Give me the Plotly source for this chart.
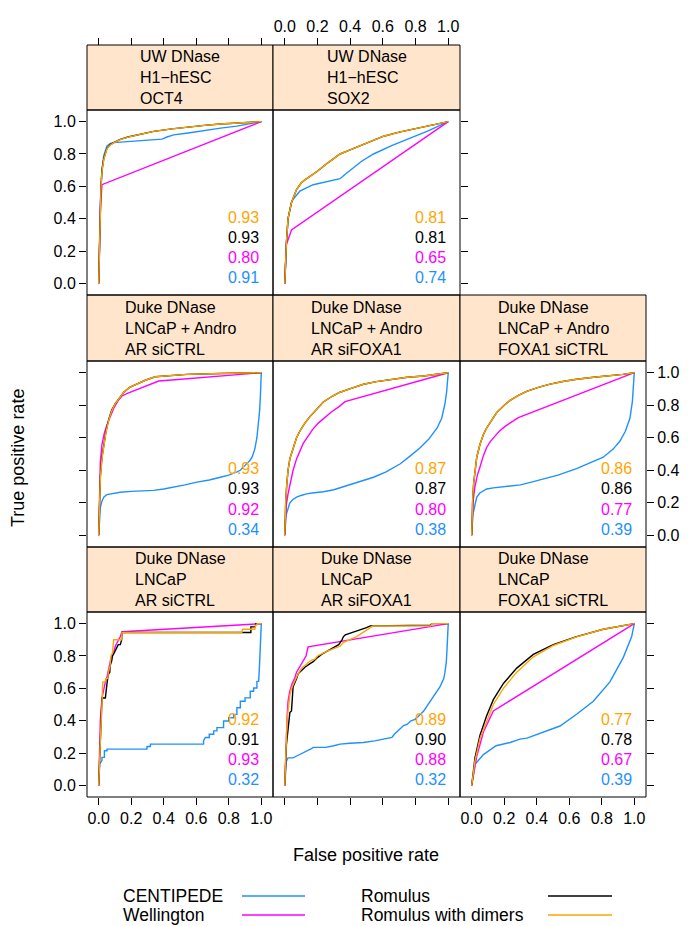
import plotly.graph_objects as go

# ---------------- data ----------------
panel_labels = [
    "UW DNase<br>H1−hESC<br>OCT4",
    "UW DNase<br>H1−hESC<br>SOX2",
    "Duke DNase<br>LNCaP + Andro<br>AR siCTRL",
    "Duke DNase<br>LNCaP + Andro<br>AR siFOXA1",
    "Duke DNase<br>LNCaP + Andro<br>FOXA1 siCTRL",
    "Duke DNase<br>LNCaP<br>AR siCTRL",
    "Duke DNase<br>LNCaP<br>AR siFOXA1",
    "Duke DNase<br>LNCaP<br>FOXA1 siCTRL",
]
method_names = ["CENTIPEDE", "Wellington", "Romulus", "Romulus with dimers"]
auc_centipede = [0.91, 0.74, 0.34, 0.38, 0.39, 0.32, 0.32, 0.39]
auc_wellington = [0.80, 0.65, 0.92, 0.80, 0.77, 0.93, 0.88, 0.67]
auc_romulus = [0.93, 0.81, 0.93, 0.87, 0.86, 0.91, 0.90, 0.78]
auc_dimers = [0.93, 0.81, 0.93, 0.87, 0.86, 0.92, 0.89, 0.77]
tick_vals = [0.0, 0.2, 0.4, 0.6, 0.8, 1.0]
tick_text = ["0.0", "0.2", "0.4", "0.6", "0.8", "1.0"]

# Panel 1: OCT4
oct4_cen_x = [0, 0.004, 0.010, 0.020, 0.031, 0.051, 0.072, 0.092, 0.15, 0.236, 0.32, 0.389, 0.42, 0.461, 0.55, 0.645, 0.75, 0.85, 0.93, 1.0]
oct4_cen_y = [0, 0.30, 0.50, 0.70, 0.79, 0.85, 0.865, 0.870, 0.875, 0.88, 0.887, 0.892, 0.905, 0.918, 0.93, 0.945, 0.96, 0.972, 0.985, 1.0]
oct4_wel_x = [0, 0.004, 0.010, 0.020, 1.0]
oct4_wel_y = [0, 0.20, 0.45, 0.61, 1.0]
oct4_rom_x = [0, 0.004, 0.010, 0.014, 0.020, 0.031, 0.051, 0.072, 0.092, 0.133, 0.18, 0.236, 0.338, 0.45, 0.543, 0.65, 0.748, 0.87, 1.0]
oct4_rom_y = [0, 0.25, 0.45, 0.60, 0.70, 0.77, 0.835, 0.858, 0.870, 0.89, 0.905, 0.918, 0.94, 0.955, 0.967, 0.977, 0.985, 0.993, 1.0]
oct4_dim_x = [0, 0.004, 0.010, 0.014, 0.020, 0.031, 0.051, 0.072, 0.092, 0.133, 0.18, 0.236, 0.338, 0.45, 0.543, 0.65, 0.748, 0.87, 1.0]
oct4_dim_y = [0, 0.24, 0.44, 0.59, 0.69, 0.765, 0.832, 0.856, 0.869, 0.889, 0.904, 0.918, 0.94, 0.955, 0.967, 0.977, 0.985, 0.993, 1.0]

# Panel 2: SOX2
sox2_cen_x = [0, 0.004, 0.010, 0.020, 0.041, 0.051, 0.092, 0.174, 0.338, 0.37, 0.40, 0.47, 0.543, 0.65, 0.748, 0.87, 1.0]
sox2_cen_y = [0, 0.12, 0.25, 0.40, 0.50, 0.52, 0.57, 0.61, 0.647, 0.675, 0.70, 0.755, 0.80, 0.85, 0.89, 0.94, 1.0]
sox2_wel_x = [0, 0.004, 0.010, 0.041, 1.0]
sox2_wel_y = [0, 0.12, 0.24, 0.33, 1.0]
sox2_rom_x = [0, 0.004, 0.010, 0.020, 0.041, 0.072, 0.10, 0.123, 0.195, 0.27, 0.338, 0.40, 0.461, 0.53, 0.605, 0.70, 0.809, 0.90, 1.0]
sox2_rom_y = [0, 0.12, 0.25, 0.40, 0.50, 0.58, 0.62, 0.64, 0.69, 0.75, 0.80, 0.825, 0.85, 0.88, 0.91, 0.935, 0.96, 0.98, 1.0]
sox2_dim_x = [0, 0.004, 0.010, 0.020, 0.041, 0.072, 0.10, 0.123, 0.195, 0.27, 0.338, 0.40, 0.461, 0.53, 0.605, 0.70, 0.809, 0.90, 1.0]
sox2_dim_y = [0, 0.12, 0.25, 0.40, 0.50, 0.58, 0.62, 0.64, 0.69, 0.75, 0.80, 0.825, 0.85, 0.88, 0.91, 0.935, 0.96, 0.98, 1.0]

# Panel 3: LNCaP + Andro, AR siCTRL
andAR_cen_x = [0, 0.004, 0.010, 0.020, 0.031, 0.05, 0.08, 0.133, 0.2, 0.338, 0.40, 0.461, 0.53, 0.605, 0.68, 0.748, 0.80, 0.85, 0.871, 0.90, 0.93, 0.943, 0.96, 0.973, 0.983, 0.99, 0.995, 1.0]
andAR_cen_y = [0, 0.10, 0.17, 0.21, 0.235, 0.25, 0.257, 0.265, 0.27, 0.276, 0.285, 0.296, 0.31, 0.327, 0.34, 0.357, 0.37, 0.39, 0.40, 0.43, 0.46, 0.48, 0.53, 0.60, 0.68, 0.77, 0.87, 1.0]
andAR_wel_x = [0, 0.004, 0.010, 0.020, 0.035, 0.051, 0.07, 0.092, 0.12, 0.143, 0.18, 0.215, 0.25, 0.287, 0.33, 0.369, 0.45, 0.543, 0.75, 1.0]
andAR_wel_y = [0, 0.30, 0.45, 0.56, 0.63, 0.68, 0.73, 0.78, 0.83, 0.857, 0.875, 0.888, 0.905, 0.918, 0.935, 0.949, 0.955, 0.962, 0.98, 1.0]
andAR_rom_x = [0, 0.004, 0.010, 0.020, 0.031, 0.045, 0.061, 0.08, 0.102, 0.13, 0.154, 0.19, 0.236, 0.29, 0.348, 0.45, 0.543, 0.75, 1.0]
andAR_rom_y = [0, 0.20, 0.36, 0.48, 0.56, 0.64, 0.71, 0.77, 0.81, 0.85, 0.88, 0.91, 0.93, 0.955, 0.975, 0.985, 0.99, 0.995, 1.0]
andAR_dim_x = [0, 0.004, 0.010, 0.020, 0.031, 0.045, 0.061, 0.08, 0.102, 0.13, 0.154, 0.19, 0.236, 0.29, 0.348, 0.45, 0.543, 0.75, 1.0]
andAR_dim_y = [0, 0.19, 0.35, 0.47, 0.555, 0.635, 0.705, 0.765, 0.81, 0.85, 0.88, 0.91, 0.93, 0.955, 0.975, 0.985, 0.99, 0.995, 1.0]

# Panel 4: LNCaP + Andro, AR siFOXA1
andARf_cen_x = [0, 0.002, 0.006, 0.010, 0.020, 0.031, 0.05, 0.072, 0.1, 0.133, 0.18, 0.236, 0.3, 0.379, 0.46, 0.543, 0.62, 0.707, 0.77, 0.83, 0.88, 0.932, 0.96, 0.98, 0.99, 0.996, 1.0]
andARf_cen_y = [0, 0.06, 0.10, 0.13, 0.17, 0.20, 0.22, 0.235, 0.245, 0.255, 0.262, 0.268, 0.28, 0.305, 0.33, 0.357, 0.39, 0.44, 0.49, 0.54, 0.59, 0.66, 0.72, 0.81, 0.88, 0.95, 1.0]
andARf_wel_x = [0, 0.004, 0.010, 0.020, 0.035, 0.051, 0.072, 0.092, 0.113, 0.143, 0.17, 0.205, 0.24, 0.287, 0.33, 0.369, 1.0]
andARf_wel_y = [0, 0.12, 0.19, 0.255, 0.33, 0.40, 0.47, 0.52, 0.565, 0.61, 0.65, 0.69, 0.72, 0.76, 0.79, 0.822, 1.0]
andARf_rom_x = [0, 0.002, 0.006, 0.012, 0.020, 0.031, 0.051, 0.072, 0.092, 0.123, 0.154, 0.2, 0.236, 0.29, 0.338, 0.41, 0.482, 0.56, 0.645, 0.75, 0.85, 0.93, 1.0]
andARf_rom_y = [0, 0.12, 0.21, 0.31, 0.40, 0.47, 0.54, 0.60, 0.64, 0.69, 0.73, 0.78, 0.82, 0.855, 0.88, 0.905, 0.929, 0.945, 0.959, 0.972, 0.98, 0.99, 1.0]
andARf_dim_x = [0, 0.002, 0.006, 0.012, 0.020, 0.031, 0.051, 0.072, 0.092, 0.123, 0.154, 0.2, 0.236, 0.29, 0.338, 0.41, 0.482, 0.56, 0.645, 0.75, 0.85, 0.93, 1.0]
andARf_dim_y = [0, 0.12, 0.21, 0.31, 0.40, 0.47, 0.54, 0.60, 0.64, 0.69, 0.73, 0.78, 0.82, 0.855, 0.88, 0.905, 0.929, 0.945, 0.959, 0.972, 0.98, 0.99, 1.0]

# Panel 5: LNCaP + Andro, FOXA1 siCTRL
andFX_cen_x = [0, 0.002, 0.006, 0.010, 0.020, 0.031, 0.05, 0.072, 0.092, 0.133, 0.18, 0.236, 0.3, 0.379, 0.441, 0.53, 0.645, 0.73, 0.809, 0.87, 0.912, 0.945, 0.973, 0.988, 0.996, 1.0]
andFX_cen_y = [0, 0.06, 0.11, 0.14, 0.19, 0.235, 0.26, 0.275, 0.285, 0.292, 0.297, 0.30, 0.31, 0.33, 0.347, 0.37, 0.41, 0.445, 0.48, 0.53, 0.58, 0.64, 0.72, 0.82, 0.92, 1.0]
andFX_wel_x = [0, 0.004, 0.010, 0.020, 0.035, 0.051, 0.072, 0.092, 0.113, 0.143, 0.17, 0.205, 0.25, 0.287, 1.0]
andFX_wel_y = [0, 0.12, 0.22, 0.30, 0.37, 0.42, 0.49, 0.54, 0.575, 0.61, 0.64, 0.67, 0.70, 0.724, 1.0]
andFX_rom_x = [0, 0.002, 0.006, 0.012, 0.020, 0.031, 0.051, 0.072, 0.092, 0.123, 0.154, 0.2, 0.236, 0.29, 0.338, 0.41, 0.482, 0.56, 0.645, 0.75, 0.85, 0.93, 1.0]
andFX_rom_y = [0, 0.12, 0.22, 0.32, 0.40, 0.48, 0.56, 0.62, 0.66, 0.71, 0.755, 0.80, 0.83, 0.862, 0.885, 0.91, 0.93, 0.946, 0.96, 0.972, 0.98, 0.99, 1.0]
andFX_dim_x = [0, 0.002, 0.006, 0.012, 0.020, 0.031, 0.051, 0.072, 0.092, 0.123, 0.154, 0.2, 0.236, 0.29, 0.338, 0.41, 0.482, 0.56, 0.645, 0.75, 0.85, 0.93, 1.0]
andFX_dim_y = [0, 0.12, 0.22, 0.32, 0.40, 0.48, 0.56, 0.62, 0.66, 0.71, 0.755, 0.80, 0.83, 0.862, 0.885, 0.91, 0.93, 0.946, 0.96, 0.972, 0.98, 0.99, 1.0]

# Panel 6: LNCaP, AR siCTRL
lnAR_cen_x = [0, 0.006, 0.020, 0.020, 0.035, 0.035, 0.051, 0.051, 0.297, 0.297, 0.318, 0.318, 0.645, 0.645, 0.656, 0.68, 0.68, 0.707, 0.707, 0.727, 0.727, 0.768, 0.768, 0.80, 0.80, 0.83, 0.83, 0.85, 0.85, 0.871, 0.871, 0.90, 0.90, 0.932, 0.932, 0.953, 0.953, 0.973, 0.973, 0.984, 0.99, 1.0]
lnAR_cen_y = [0, 0.133, 0.153, 0.173, 0.173, 0.214, 0.214, 0.224, 0.224, 0.240, 0.240, 0.255, 0.255, 0.276, 0.296, 0.296, 0.316, 0.316, 0.337, 0.337, 0.357, 0.357, 0.398, 0.398, 0.418, 0.418, 0.439, 0.439, 0.48, 0.48, 0.52, 0.52, 0.541, 0.541, 0.582, 0.582, 0.602, 0.602, 0.643, 0.643, 0.765, 1.0]
lnAR_wel_x = [0, 0.004, 0.010, 0.020, 0.030, 0.041, 0.051, 0.060, 0.072, 0.082, 0.092, 0.102, 0.12, 0.133, 0.143, 1.0]
lnAR_wel_y = [0, 0.20, 0.40, 0.54, 0.60, 0.64, 0.67, 0.72, 0.77, 0.80, 0.82, 0.86, 0.89, 0.92, 0.95, 1.0]
lnAR_rom_x = [0, 0.006, 0.014, 0.020, 0.041, 0.045, 0.051, 0.055, 0.061, 0.068, 0.070, 0.080, 0.085, 0.096, 0.110, 0.120, 0.133, 0.141, 0.143, 0.936, 0.936, 0.963, 0.967, 1.0]
lnAR_rom_y = [0, 0.20, 0.40, 0.54, 0.54, 0.60, 0.63, 0.66, 0.69, 0.70, 0.74, 0.77, 0.80, 0.82, 0.85, 0.87, 0.87, 0.90, 0.945, 0.945, 0.98, 0.98, 1.0, 1.0]
lnAR_dim_x = [0, 0.004, 0.012, 0.018, 0.020, 0.025, 0.040, 0.045, 0.055, 0.060, 0.070, 0.075, 0.085, 0.092, 0.140, 0.143, 0.880, 0.885, 0.960, 0.965, 0.975, 1.0]
lnAR_dim_y = [0, 0.17, 0.33, 0.45, 0.57, 0.64, 0.64, 0.66, 0.66, 0.70, 0.74, 0.80, 0.82, 0.90, 0.90, 0.945, 0.945, 0.965, 0.965, 0.99, 1.0, 1.0]

# Panel 7: LNCaP, AR siFOXA1
lnARf_cen_x = [0, 0.004, 0.010, 0.020, 0.051, 0.070, 0.092, 0.110, 0.133, 0.160, 0.174, 0.250, 0.300, 0.338, 0.400, 0.480, 0.550, 0.600, 0.656, 0.670, 0.690, 0.710, 0.727, 0.750, 0.770, 0.800, 0.830, 0.850, 0.870, 0.890, 0.910, 0.932, 0.950, 0.963, 0.973, 0.980, 0.988, 0.993, 1.0]
lnARf_cen_y = [0, 0.10, 0.15, 0.17, 0.17, 0.18, 0.19, 0.20, 0.21, 0.225, 0.235, 0.235, 0.245, 0.255, 0.26, 0.265, 0.275, 0.285, 0.296, 0.316, 0.337, 0.357, 0.37, 0.378, 0.398, 0.41, 0.44, 0.46, 0.49, 0.52, 0.55, 0.58, 0.61, 0.64, 0.66, 0.70, 0.76, 0.85, 1.0]
lnARf_wel_x = [0, 0.006, 0.014, 0.020, 0.030, 0.045, 0.060, 0.072, 0.090, 0.110, 0.130, 0.143, 1.0]
lnARf_wel_y = [0, 0.25, 0.42, 0.52, 0.58, 0.63, 0.66, 0.70, 0.73, 0.76, 0.80, 0.857, 1.0]
lnARf_rom_x = [0, 0.010, 0.031, 0.041, 0.051, 0.060, 0.072, 0.082, 0.100, 0.123, 0.150, 0.174, 0.200, 0.225, 0.260, 0.277, 0.300, 0.330, 0.350, 0.359, 0.370, 0.400, 0.450, 0.480, 0.500, 0.523, 0.890, 0.900, 1.0]
lnARf_rom_y = [0, 0.25, 0.45, 0.46, 0.61, 0.63, 0.66, 0.69, 0.71, 0.73, 0.75, 0.765, 0.79, 0.81, 0.83, 0.84, 0.85, 0.87, 0.90, 0.92, 0.93, 0.94, 0.955, 0.965, 0.975, 0.986, 0.99, 1.0, 1.0]
lnARf_dim_x = [0, 0.006, 0.014, 0.020, 0.030, 0.041, 0.050, 0.061, 0.072, 0.082, 0.100, 0.113, 0.130, 0.143, 0.165, 0.184, 0.200, 0.236, 0.260, 0.300, 0.338, 0.360, 0.400, 0.440, 0.470, 0.500, 0.523, 0.540, 0.891, 0.900, 1.0]
lnARf_dim_y = [0, 0.25, 0.40, 0.46, 0.55, 0.60, 0.62, 0.64, 0.67, 0.69, 0.72, 0.735, 0.745, 0.76, 0.775, 0.78, 0.80, 0.82, 0.83, 0.845, 0.86, 0.885, 0.90, 0.92, 0.94, 0.96, 0.98, 0.986, 0.986, 1.0, 1.0]

# Panel 8: LNCaP, FOXA1 siCTRL
lnFX_cen_x = [0, 0.020, 0.072, 0.15, 0.236, 0.297, 0.34, 0.441, 0.543, 0.645, 0.748, 0.85, 0.932, 0.984, 1.0]
lnFX_cen_y = [0, 0.13, 0.19, 0.245, 0.265, 0.286, 0.292, 0.327, 0.367, 0.44, 0.52, 0.64, 0.79, 0.92, 1.0]
lnFX_wel_x = [0, 0.031, 0.072, 0.133, 1.0]
lnFX_wel_y = [0, 0.18, 0.33, 0.46, 1.0]
lnFX_rom_x = [0, 0.020, 0.051, 0.092, 0.133, 0.195, 0.277, 0.379, 0.502, 0.645, 0.809, 1.0]
lnFX_rom_y = [0, 0.17, 0.31, 0.43, 0.53, 0.63, 0.725, 0.81, 0.87, 0.92, 0.965, 1.0]
lnFX_dim_x = [0, 0.020, 0.051, 0.092, 0.133, 0.195, 0.277, 0.379, 0.502, 0.645, 0.809, 1.0]
lnFX_dim_y = [0, 0.15, 0.29, 0.40, 0.50, 0.60, 0.70, 0.795, 0.865, 0.918, 0.965, 1.0]

# table built from the arrays above
curves = [
    [(oct4_cen_x, oct4_cen_y), (oct4_wel_x, oct4_wel_y), (oct4_rom_x, oct4_rom_y), (oct4_dim_x, oct4_dim_y)],
    [(sox2_cen_x, sox2_cen_y), (sox2_wel_x, sox2_wel_y), (sox2_rom_x, sox2_rom_y), (sox2_dim_x, sox2_dim_y)],
    [(andAR_cen_x, andAR_cen_y), (andAR_wel_x, andAR_wel_y), (andAR_rom_x, andAR_rom_y), (andAR_dim_x, andAR_dim_y)],
    [(andARf_cen_x, andARf_cen_y), (andARf_wel_x, andARf_wel_y), (andARf_rom_x, andARf_rom_y), (andARf_dim_x, andARf_dim_y)],
    [(andFX_cen_x, andFX_cen_y), (andFX_wel_x, andFX_wel_y), (andFX_rom_x, andFX_rom_y), (andFX_dim_x, andFX_dim_y)],
    [(lnAR_cen_x, lnAR_cen_y), (lnAR_wel_x, lnAR_wel_y), (lnAR_rom_x, lnAR_rom_y), (lnAR_dim_x, lnAR_dim_y)],
    [(lnARf_cen_x, lnARf_cen_y), (lnARf_wel_x, lnARf_wel_y), (lnARf_rom_x, lnARf_rom_y), (lnARf_dim_x, lnARf_dim_y)],
    [(lnFX_cen_x, lnFX_cen_y), (lnFX_wel_x, lnFX_wel_y), (lnFX_rom_x, lnFX_rom_y), (lnFX_dim_x, lnFX_dim_y)],
]
aucs = [auc_centipede, auc_wellington, auc_romulus, auc_dimers]

# ---------------- styling / layout ----------------
W, H = 688, 926
colors = ["#1E90FF", "#FF00FF", "#000000", "#FFA500"]
FONT = "Liberation Sans, Arial, Helvetica, sans-serif"


def px(x):
    return x / W


def py(y):
    return 1 - y / H


col_px = [(87, 273), (273, 460), (460, 646)]
row_plot = [(110, 295), (361, 547), (612, 797)]
row_strip = [(45, 110), (295, 361), (547, 612)]
panel_pos = [(0, 0), (0, 1), (1, 0), (1, 1), (1, 2), (2, 0), (2, 1), (2, 2)]

xcfg = [("top", False), ("top", True), (None, False), (None, False), (None, False),
        ("bottom", True), ("bottom", False), ("bottom", True)]
ycfg = [("left", True), ("right", False), ("left", False), (None, False), ("right", True),
        ("left", True), (None, False), ("right", False)]

fig = go.Figure()
layout = dict(
    width=W, height=H,
    margin=dict(l=0, r=0, t=0, b=0),
    paper_bgcolor="white", plot_bgcolor="white",
    showlegend=False,
    font=dict(family=FONT, size=16, color="black"),
)
shapes = []
annotations = []
AXR = [-0.072, 1.072]
auc_y = [0.037, 0.161, 0.286, 0.408]

for i, (r, c) in enumerate(panel_pos):
    n = i + 1
    xk = "xaxis" if n == 1 else f"xaxis{n}"
    yk = "yaxis" if n == 1 else f"yaxis{n}"
    xr = "x" if n == 1 else f"x{n}"
    yr = "y" if n == 1 else f"y{n}"
    x0, x1 = col_px[c]
    y0, y1 = row_plot[r]
    s0, s1 = row_strip[r]

    xside, xlab = xcfg[i]
    xa = dict(domain=[px(x0), px(x1)], range=AXR, anchor=yr, showgrid=False,
              zeroline=False, showline=False, tickvals=tick_vals, ticktext=tick_text,
              ticks="outside" if xside else "", ticklen=7, tickwidth=1, tickcolor="black",
              showticklabels=xlab, tickfont=dict(size=16, color="black", family=FONT),
              fixedrange=True)
    if xside == "top":
        xa.update(side="top", anchor="free", position=py(s0))
    layout[xk] = xa

    yside, ylab = ycfg[i]
    ya = dict(domain=[py(y1), py(y0)], range=AXR, anchor=xr, showgrid=False,
              zeroline=False, showline=False, tickvals=tick_vals, ticktext=tick_text,
              ticks="outside" if yside else "", ticklen=7, tickwidth=1, tickcolor="black",
              showticklabels=ylab, side=yside if yside else "left",
              tickfont=dict(size=16, color="black", family=FONT), fixedrange=True)
    layout[yk] = ya

    for m in range(4):
        xs, ys = curves[i][m]
        fig.add_trace(go.Scatter(x=xs, y=ys, mode="lines", name=method_names[m],
                                 line=dict(color=colors[m], width=1.4),
                                 xaxis=xr, yaxis=yr, hoverinfo="skip"))

    shapes.append(dict(type="rect", xref="paper", yref="paper",
                       x0=px(x0), x1=px(x1), y0=py(s1), y1=py(s0),
                       fillcolor="#ffe5cc", line=dict(color="black", width=1), layer="below"))
    shapes.append(dict(type="rect", xref="paper", yref="paper",
                       x0=px(x0), x1=px(x1), y0=py(y1), y1=py(y0),
                       line=dict(color="black", width=1), layer="above"))
    annotations.append(dict(x=px((x0 + x1) / 2), y=py((s0 + s1) / 2), xref="paper", yref="paper",
                            text=panel_labels[i], showarrow=False, align="left",
                            xanchor="center", yanchor="middle",
                            font=dict(size=16, color="black", family=FONT)))
    for m in range(4):
        annotations.append(dict(x=1.0, y=auc_y[m], xref=xr, yref=yr,
                                text=f"{aucs[m][i]:.2f}", showarrow=False,
                                xanchor="right", yanchor="middle",
                                font=dict(size=16, color=colors[m], family=FONT)))

annotations.append(dict(x=px(366), y=py(855), xref="paper", yref="paper",
                        text="False positive rate", showarrow=False,
                        xanchor="center", yanchor="middle",
                        font=dict(size=18, color="black", family=FONT)))
annotations.append(dict(x=px(18), y=py(458), xref="paper", yref="paper",
                        text="True positive rate", showarrow=False, textangle=-90,
                        xanchor="center", yanchor="middle",
                        font=dict(size=18, color="black", family=FONT)))

leg_text_x = [122, 122, 360, 360]
leg_line_x = [(242, 305), (242, 305), (548, 612), (548, 612)]
leg_y = [896, 915, 896, 915]
for m in range(4):
    annotations.append(dict(x=px(leg_text_x[m]), y=py(leg_y[m]), xref="paper", yref="paper",
                            text=method_names[m], showarrow=False, xanchor="left",
                            yanchor="middle", borderpad=0,
                            font=dict(size=17.5, color="black", family=FONT)))
    shapes.append(dict(type="line", xref="paper", yref="paper",
                       x0=px(leg_line_x[m][0]), x1=px(leg_line_x[m][1]),
                       y0=py(leg_y[m]), y1=py(leg_y[m]),
                       line=dict(color=colors[m], width=1.4)))

layout["shapes"] = shapes
layout["annotations"] = annotations
fig.update_layout(**layout)
fig.write_html("out.html", config={"displayModeBar": False})
